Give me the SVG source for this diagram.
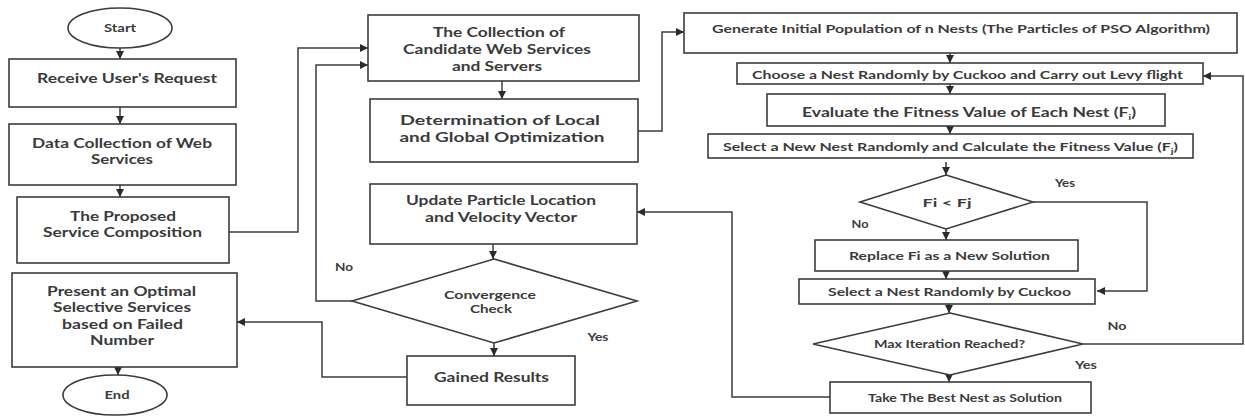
<svg xmlns="http://www.w3.org/2000/svg" width="1245" height="416" viewBox="0 0 1245 416">
<style>
.box{fill:#fff;stroke:#3c3c3c;stroke-width:1.6}
.t{font-family:Lato,"Open Sans","Liberation Sans",sans-serif;font-weight:700;fill:#3a3a3a;text-anchor:middle}
.l{fill:none;stroke:#3c3c3c;stroke-width:1.5;marker-end:url(#ah)}
.s13{font-size:13.5px}.s12{font-size:12px}.s115{font-size:11.5px}.s11{font-size:11px}
</style>
<defs>
<marker id="ah" markerWidth="8" markerHeight="8" refX="8" refY="4" orient="auto" markerUnits="userSpaceOnUse">
<path d="M0,0 L8,4 L0,8 z" fill="#2a2a2a"/>
</marker>
</defs>
<rect width="1245" height="416" fill="#fff"/>
<g id="connectors">
<line class="l" x1="120" y1="48" x2="120" y2="59"/>
<line class="l" x1="120" y1="107" x2="120" y2="124"/>
<line class="l" x1="120" y1="185" x2="120" y2="197"/>
<polyline class="l" points="229,232 298,232 298,48 368,48"/>
<line class="l" x1="502" y1="81" x2="502" y2="99"/>
<polyline class="l" points="638,131 662,131 662,32 684,32"/>
<line class="l" x1="493" y1="244" x2="493" y2="259"/>
<polyline class="l" points="352,301 316,301 316,65 368,65"/>
<line class="l" x1="494" y1="343" x2="494" y2="356"/>
<polyline class="l" points="407,377 322,377 322,322 237,322"/>
<line class="l" x1="118" y1="367" x2="118" y2="375"/>
<line class="l" x1="950" y1="53" x2="950" y2="63"/>
<line class="l" x1="950" y1="84" x2="950" y2="94"/>
<line class="l" x1="950" y1="126" x2="950" y2="134"/>
<line class="l" x1="946" y1="162" x2="946" y2="175"/>
<polyline class="l" points="1033,202 1147,202 1147,291 1097,291"/>
<line class="l" x1="946" y1="229" x2="946" y2="240"/>
<line class="l" x1="946" y1="271" x2="946" y2="279"/>
<line class="l" x1="949" y1="304" x2="949" y2="313"/>
<polyline class="l" points="1083,344 1243,344 1243,76 1203,76"/>
<line class="l" x1="949" y1="375" x2="949" y2="382"/>
<polyline class="l" points="830,397 732,397 732,212 637,212"/>
<text class="t s115" x="344" y="271" textLength="18" lengthAdjust="spacingAndGlyphs">No</text>
<text class="t s115" x="598" y="341" textLength="21" lengthAdjust="spacingAndGlyphs">Yes</text>
<text class="t s115" x="1065" y="187" textLength="20" lengthAdjust="spacingAndGlyphs">Yes</text>
<text class="t s115" x="860" y="228" textLength="17" lengthAdjust="spacingAndGlyphs">No</text>
<text class="t s115" x="1117" y="330" textLength="19" lengthAdjust="spacingAndGlyphs">No</text>
<text class="t s115" x="1086" y="369" textLength="22" lengthAdjust="spacingAndGlyphs">Yes</text>
</g>
<g id="start">
<ellipse class="box" cx="120" cy="28" rx="52" ry="20"/>
<text class="t s11" x="120" y="32" textLength="32" lengthAdjust="spacingAndGlyphs">Start</text>
</g>
<g id="receive">
<rect class="box" x="9" y="59" width="227" height="48"/>
<text class="t s13" x="127" y="83" textLength="180" lengthAdjust="spacingAndGlyphs">Receive User's Request</text>
</g>
<g id="data-collection">
<rect class="box" x="9" y="124" width="227" height="61"/>
<text class="t s13" x="122" y="148" textLength="180" lengthAdjust="spacingAndGlyphs">Data Collection of Web</text>
<text class="t s13" x="122" y="164" textLength="62" lengthAdjust="spacingAndGlyphs">Services</text>
</g>
<g id="proposed">
<rect class="box" x="17" y="197" width="212" height="66"/>
<text class="t s13" x="123" y="221" textLength="106" lengthAdjust="spacingAndGlyphs">The Proposed</text>
<text class="t s13" x="122.5" y="237" textLength="159" lengthAdjust="spacingAndGlyphs">Service Composition</text>
</g>
<g id="present">
<rect class="box" x="12" y="273" width="225" height="94"/>
<text class="t s13" x="121.5" y="296" textLength="149" lengthAdjust="spacingAndGlyphs">Present an Optimal</text>
<text class="t s13" x="122" y="312" textLength="138" lengthAdjust="spacingAndGlyphs">Selective Services</text>
<text class="t s13" x="122.5" y="329" textLength="121" lengthAdjust="spacingAndGlyphs">based on Failed</text>
<text class="t s13" x="122" y="345" textLength="64" lengthAdjust="spacingAndGlyphs">Number</text>
</g>
<g id="end">
<ellipse class="box" cx="115" cy="395" rx="52" ry="20"/>
<text class="t s11" x="117" y="399" textLength="25" lengthAdjust="spacingAndGlyphs">End</text>
</g>
<g id="collection">
<rect class="box" x="368" y="15" width="271" height="66"/>
<text class="t s13" x="499" y="37" textLength="132" lengthAdjust="spacingAndGlyphs">The Collection of</text>
<text class="t s13" x="497" y="54" textLength="188" lengthAdjust="spacingAndGlyphs">Candidate Web Services</text>
<text class="t s13" x="497" y="71" textLength="90" lengthAdjust="spacingAndGlyphs">and Servers</text>
</g>
<g id="determination">
<rect class="box" x="370" y="99" width="268" height="63"/>
<text class="t s13" x="500" y="125" textLength="200" lengthAdjust="spacingAndGlyphs">Determination of Local</text>
<text class="t s13" x="502" y="142" textLength="205" lengthAdjust="spacingAndGlyphs">and Global Optimization</text>
</g>
<g id="update">
<rect class="box" x="370" y="184" width="267" height="60"/>
<text class="t s13" x="501" y="205" textLength="190" lengthAdjust="spacingAndGlyphs">Update Particle Location</text>
<text class="t s13" x="501" y="222" textLength="152" lengthAdjust="spacingAndGlyphs">and Velocity Vector</text>
</g>
<g id="convergence">
<polygon class="box" points="494,259 637,301 494,343 352,301"/>
<text class="t s115" x="490" y="299" textLength="92" lengthAdjust="spacingAndGlyphs">Convergence</text>
<text class="t s115" x="491" y="313" textLength="42" lengthAdjust="spacingAndGlyphs">Check</text>
</g>
<g id="gained">
<rect class="box" x="407" y="356" width="168" height="49"/>
<text class="t s13" x="491.5" y="382" textLength="115" lengthAdjust="spacingAndGlyphs">Gained Results</text>
</g>
<g id="generate">
<rect class="box" x="684" y="13" width="553" height="40"/>
<text class="t s115" x="961" y="33" textLength="498" lengthAdjust="spacingAndGlyphs">Generate Initial Population of n Nests (The Particles of PSO Algorithm)</text>
</g>
<g id="choose">
<rect class="box" x="737" y="63" width="466" height="21"/>
<text class="t s115" x="967.5" y="79" textLength="431" lengthAdjust="spacingAndGlyphs">Choose a Nest Randomly by Cuckoo and Carry out Levy flight</text>
</g>
<g id="evaluate">
<rect class="box" x="767" y="94" width="398" height="32"/>
<text class="t s13" x="969" y="116.5" textLength="334" lengthAdjust="spacingAndGlyphs">Evaluate the Fitness Value of Each Nest (F<tspan font-size="8" dy="3">i</tspan><tspan dy="-3">)</tspan></text>
</g>
<g id="select-new">
<rect class="box" x="708" y="134" width="485" height="24"/>
<text class="t s115" x="950.5" y="150.5" textLength="455" lengthAdjust="spacingAndGlyphs">Select a New Nest Randomly and Calculate the Fitness Value (F<tspan font-size="8" dy="3">j</tspan><tspan dy="-3">)</tspan></text>
</g>
<g id="fi-fj">
<polygon class="box" points="946,175 1033,202 946,229 860,202"/>
<text class="t s12" x="947" y="206.5" textLength="49" lengthAdjust="spacingAndGlyphs">Fi &lt; Fj</text>
</g>
<g id="replace">
<rect class="box" x="815" y="240" width="263" height="31"/>
<text class="t s12" x="949.5" y="260" textLength="201" lengthAdjust="spacingAndGlyphs">Replace Fi as a New Solution</text>
</g>
<g id="select-nest">
<rect class="box" x="799" y="279" width="296" height="25"/>
<text class="t s12" x="949.5" y="296" textLength="243" lengthAdjust="spacingAndGlyphs">Select a Nest Randomly by Cuckoo</text>
</g>
<g id="max-iteration">
<polygon class="box" points="950,313 1083,344 950,375 813,344"/>
<text class="t s115" x="949.5" y="348" textLength="151" lengthAdjust="spacingAndGlyphs">Max Iteration Reached?</text>
</g>
<g id="take-best">
<rect class="box" x="830" y="382" width="261" height="31"/>
<text class="t s115" x="965" y="402" textLength="194" lengthAdjust="spacingAndGlyphs">Take The Best Nest as Solution</text>
</g>
</svg>
